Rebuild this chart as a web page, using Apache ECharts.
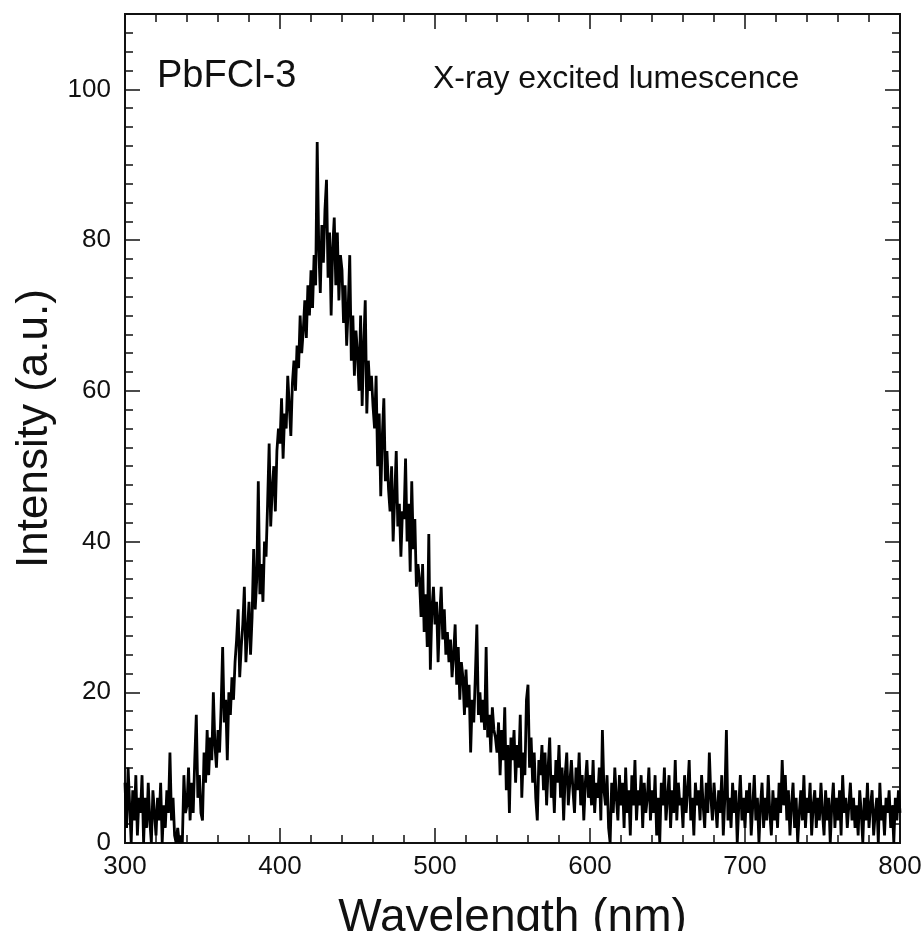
<!DOCTYPE html>
<html>
<head>
<meta charset="utf-8">
<title>PbFCl-3 X-ray excited luminescence</title>
<script src="https://cdn.jsdelivr.net/npm/echarts@6/dist/echarts.min.js"></script>
<style>
  html, body { margin: 0; padding: 0; background: #fff; }
  #chart { width: 924px; height: 931px; }
</style>
</head>
<body>
<div id="chart"></div>
<script>
// wavelength starts at 300 nm, one value per nm
const startWl = 300
const stepWl = 1

// intensity, 10 values per row (300-309, 310-319 ...)
const intensity = [
  8, 2, 10, 5, 0, 7, 3, 9, 1, 6,
  4, 9, 0, 6, 2, 8, 3, 0, 7, 4,
  1, 6, 3, 8, 0, 5, 2, 7, 4, 12,
  3, 6, 1, 0, 2, 0, 1, 0, 9, 4,
  5, 10, 3, 8, 4, 11, 17, 6, 9, 4,
  3, 12, 8, 15, 9, 14, 11, 20, 13, 10,
  15, 12, 18, 26, 16, 19, 11, 20, 17, 22,
  19, 24, 27, 31, 22, 26, 29, 34, 24, 28,
  32, 25, 30, 39, 31, 35, 48, 33, 37, 32,
  40, 38, 45, 53, 42, 47, 50, 44, 52, 55,
  53, 59, 51, 57, 55, 62, 58, 54, 61, 64,
  60, 66, 63, 70, 65, 68, 72, 67, 74, 70,
  76, 71, 78, 74, 93, 79, 73, 82, 77, 84,
  88, 75, 81, 70, 79, 83, 74, 81, 72, 78,
  76, 69, 74, 66, 71, 78, 64, 70, 62, 68,
  65, 60, 70, 58, 66, 72, 57, 64, 60, 62,
  58, 55, 62, 50, 57, 46, 54, 59, 48, 52,
  47, 44, 50, 40, 46, 52, 42, 45, 38, 44,
  43, 51, 40, 45, 36, 48, 39, 43, 34, 37,
  35, 30, 37, 28, 33, 26, 41, 23, 31, 34,
  29, 32, 24, 30, 34, 27, 31, 25, 28, 24,
  27, 22, 25, 29, 21, 26, 19, 24, 22, 17,
  23, 18, 21, 12, 19, 16, 22, 29, 17, 20,
  16, 19, 15, 26, 14, 17, 12, 18, 15, 14,
  12, 16, 9, 15, 11, 18, 7, 13, 4, 14,
  11, 15, 8, 13, 10, 17, 6, 12, 9, 19,
  21, 10, 14, 8, 12, 6, 3, 11, 9, 13,
  7, 12, 5, 10, 14, 6, 9, 4, 11, 8,
  13, 6, 10, 3, 9, 12, 5, 8, 11, 7,
  4, 10, 7, 12, 5, 9, 3, 8, 11, 6,
  9, 5, 11, 4, 8, 6, 10, 3, 15, 7,
  5, 9, 2, 0, 8, 4, 10, 6, 3, 9,
  5, 8, 2, 10, 4, 7, 1, 9, 5, 11,
  3, 7, 5, 9, 2, 8, 4, 6, 10, 3,
  7, 4, 9, 1, 6, 0, 8, 5, 10, 3,
  6, 9, 2, 7, 4, 11, 3, 8, 5, 6,
  2, 9, 4, 7, 11, 3, 6, 1, 8, 5,
  7, 3, 9, 5, 2, 8, 4, 12, 6, 3,
  8, 5, 2, 7, 4, 9, 1, 6, 15, 3,
  6, 2, 8, 4, 7, 0, 5, 9, 3, 6,
  2, 7, 4, 8, 1, 5, 9, 3, 6, 0,
  5, 8, 2, 6, 3, 9, 4, 1, 7, 3,
  6, 2, 8, 4, 11, 5, 9, 3, 7, 1,
  5, 8, 2, 6, 0, 4, 7, 3, 9, 2,
  6, 4, 8, 1, 5, 7, 2, 6, 3, 8,
  4, 1, 7, 3, 6, 0, 5, 8, 2, 6,
  3, 7, 1, 9, 4, 6, 2, 5, 8, 3,
  6, 2, 5, 1, 7, 4, 0, 6, 3, 8,
  2, 5, 7, 1, 4, 6, 0, 8, 3, 5,
  1, 6, 4, 7, 2, 5, 0, 6, 3, 7,
  4
]

const sampleName = 'PbFCl-3'
const noteText = 'X-ray excited lumescence'
const xTitle = 'Wavelength (nm)'
const yTitle = 'Intensity (a.u.)'

const points = intensity.map((v, i) => [startWl + i * stepWl, v])

const FONT = '"Liberation Sans", Arial, Helvetica, sans-serif'
const INK = '#111'

// shared look for the frame axes, ticks point inward on every side
function frameAxis(extra) {
  return Object.assign({
    axisLine: { show: true, onZero: false, lineStyle: { color: INK, width: 2 } },
    axisTick: { show: true, inside: true, length: 15, lineStyle: { color: INK, width: 1.5 } },
    splitLine: { show: false },
    nameMoveOverlap: false
  }, extra)
}

const chart = echarts.init(document.getElementById('chart'))

chart.setOption({
  backgroundColor: '#fff',
  animation: false,

  // fixed plot box; the x title is allowed to run off the bottom like in the original
  grid: { left: 125, right: 24, top: 14, bottom: 88, outerBoundsMode: 'none', containLabel: false },

  xAxis: [
    frameAxis({
      type: 'value',
      position: 'bottom',
      min: 300,
      max: 800,
      interval: 100,
      minorTick: { show: true, splitNumber: 5, length: 8, lineStyle: { color: INK, width: 1.5 } },
      axisLabel: { color: INK, fontSize: 26, fontFamily: FONT, margin: 11 },
      name: xTitle,
      nameLocation: 'middle',
      nameGap: 52,
      nameTextStyle: { color: INK, fontSize: 46, fontFamily: FONT }
    }),
    frameAxis({
      type: 'value',
      position: 'top',
      min: 300,
      max: 800,
      interval: 100,
      minorTick: { show: true, splitNumber: 5, length: 8, lineStyle: { color: INK, width: 1.5 } },
      axisLabel: { show: false }
    })
  ],

  yAxis: [
    // left, major ticks + labels
    frameAxis({
      type: 'value',
      position: 'left',
      min: 0,
      max: 110,
      interval: 20,
      axisLabel: {
        color: INK, fontSize: 26, fontFamily: FONT, margin: 14,
        formatter: v => (v > 100 ? '' : String(v))
      },
      name: yTitle,
      nameLocation: 'middle',
      nameGap: 68,
      nameTextStyle: { color: INK, fontSize: 44, fontFamily: FONT }
    }),
    // left, minor ticks every 2.5
    frameAxis({
      type: 'value', position: 'left', min: 0, max: 110, interval: 2.5,
      axisTick: { show: true, inside: true, length: 8, lineStyle: { color: INK, width: 1.5 } },
      axisLabel: { show: false }
    }),
    // right side mirrors
    frameAxis({
      type: 'value', position: 'right', min: 0, max: 110, interval: 20,
      axisLabel: { show: false }
    }),
    frameAxis({
      type: 'value', position: 'right', min: 0, max: 110, interval: 2.5,
      axisTick: { show: true, inside: true, length: 8, lineStyle: { color: INK, width: 1.5 } },
      axisLabel: { show: false }
    })
  ],

  graphic: [
    {
      type: 'text', left: 157, top: 58,
      style: { text: sampleName, fill: INK, font: '38px ' + FONT }
    },
    {
      type: 'text', left: 433, top: 63,
      style: { text: noteText, fill: INK, font: '32px ' + FONT }
    }
  ],

  series: [
    {
      type: 'line',
      xAxisIndex: 0,
      yAxisIndex: 0,
      data: points,
      showSymbol: false,
      symbol: 'none',
      smooth: false,
      clip: true,
      lineStyle: { color: '#000', width: 2.8 }
    }
  ]
})
</script>
</body>
</html>
